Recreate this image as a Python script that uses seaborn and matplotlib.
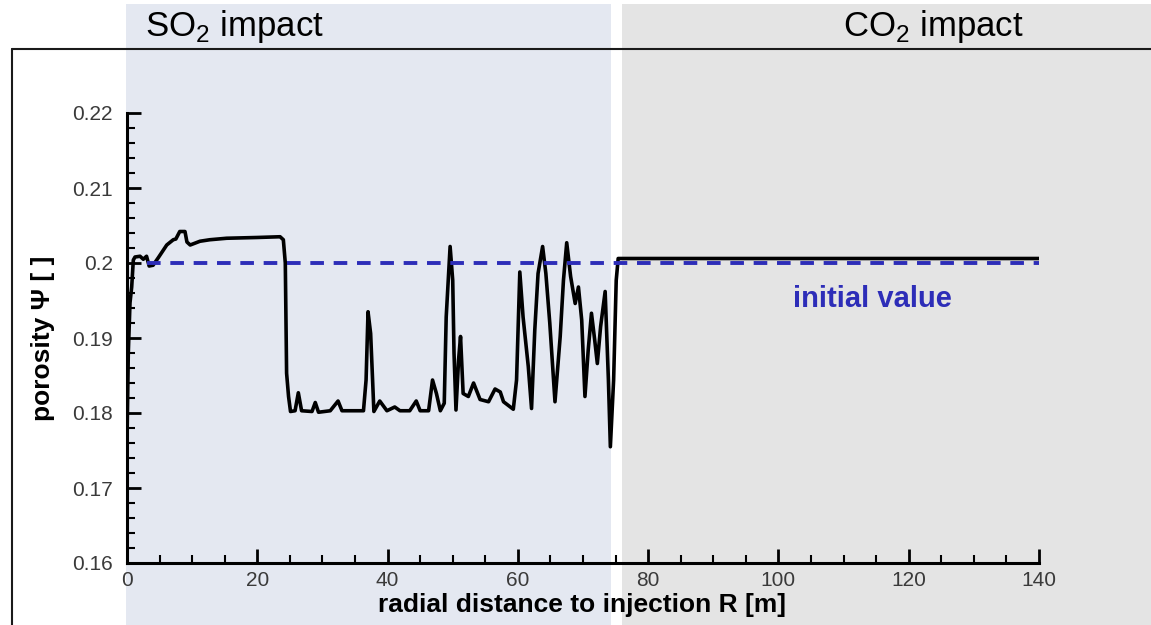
import matplotlib
matplotlib.use("Agg")
import matplotlib.pyplot as plt
import seaborn as sns
from matplotlib.patches import Rectangle
from matplotlib.lines import Line2D
from matplotlib.ticker import MultipleLocator

# porosity profile along the radius
radius = [0.0, 0.2, 0.46, 0.72, 0.97, 1.23, 2.0, 2.5, 3.0, 3.4, 4.0, 4.8, 6.1, 7.1, 7.5,
          8.1, 8.9, 9.2, 9.7, 11.2, 12.7, 15.3, 19.9, 23.5, 24.0, 24.3, 24.5, 24.8, 25.1,
          25.8, 26.3, 26.8, 28.4, 28.9, 29.4, 31.2, 32.4, 33.0, 36.3, 36.7, 37.0, 37.4,
          37.7, 37.9, 38.8, 39.9, 41.1, 41.9, 43.4, 44.4, 45.0, 46.3, 46.9, 47.5, 48.1,
          48.7, 49.0, 49.6, 50.0, 50.2, 50.5, 50.9, 51.2, 51.6, 52.4, 53.2, 54.2, 55.5,
          56.5, 57.3, 57.8, 59.3, 59.8, 60.3, 60.8, 61.6, 62.1, 62.6, 63.1, 63.8, 64.3,
          64.9, 65.7, 66.5, 67.0, 67.5, 68.1, 68.8, 69.3, 69.8, 70.3, 70.8, 71.3, 71.8,
          72.2, 72.7, 73.4, 73.9, 74.2, 74.7, 75.1, 75.4, 140.0]
porosity = [0.1764, 0.1880, 0.1947, 0.1968, 0.2004, 0.2008, 0.2009, 0.2005, 0.2009, 0.1996,
            0.1997, 0.2007, 0.2024, 0.2031, 0.2032, 0.2042, 0.2042, 0.2028, 0.2024, 0.2029,
            0.2031, 0.2033, 0.2034, 0.2035, 0.2031, 0.2000, 0.1853, 0.1822, 0.1802, 0.1803,
            0.1827, 0.1803, 0.1802, 0.1814, 0.1801, 0.1803, 0.1816, 0.1803, 0.1803, 0.1844,
            0.1935, 0.1906, 0.1844, 0.1802, 0.1816, 0.1803, 0.1808, 0.1803, 0.1803, 0.1816,
            0.1803, 0.1803, 0.1844, 0.1826, 0.1803, 0.1813, 0.1928, 0.2022, 0.1977, 0.1880,
            0.1804, 0.1871, 0.1902, 0.1826, 0.1822, 0.1840, 0.1818, 0.1815, 0.1832, 0.1828,
            0.1815, 0.1805, 0.1844, 0.1988, 0.1928, 0.1862, 0.1806, 0.1911, 0.1986, 0.2022,
            0.1986, 0.1920, 0.1815, 0.1902, 0.1977, 0.2027, 0.1982, 0.1946, 0.1968, 0.1924,
            0.1822, 0.1884, 0.1933, 0.1897, 0.1866, 0.1915, 0.1962, 0.1844, 0.1755, 0.1844,
            0.1977, 0.2006, 0.2006]

# initial porosity
initial_x = [3.0, 140.0]
initial_y = [0.2, 0.2]

xticks = [0, 20, 40, 60, 80, 100, 120, 140]
yticks = [0.16, 0.17, 0.18, 0.19, 0.2, 0.21, 0.22]
ytick_labels = ["0.16", "0.17", "0.18", "0.19", "0.2", "0.21", "0.22"]

sns.set_style("ticks")
plt.rcParams['font.family'] = ['Liberation Sans', 'DejaVu Sans']
plt.rcParams['mathtext.fontset'] = 'custom'
plt.rcParams['mathtext.rm'] = 'Liberation Sans'
plt.rcParams['text.color'] = 'black'
plt.rcParams['axes.labelcolor'] = 'black'

W, H = 1151, 625
fig = plt.figure(figsize=(W / 100, H / 100), dpi=100)
fig.patch.set_facecolor('white')

# zone shading behind the axes
fig.add_artist(Rectangle((126 / W, 0), (611 - 126) / W, 0.993, transform=fig.transFigure,
                         facecolor='#e4e8f1', edgecolor='none', zorder=-5))
fig.add_artist(Rectangle((622 / W, 0), 1 - 622 / W, 0.993, transform=fig.transFigure,
                         facecolor='#e4e4e4', edgecolor='none', zorder=-5))
fig.add_artist(Line2D([12 / W, 1], [0.9224, 0.9224], transform=fig.transFigure,
                      color='#1a1a1a', lw=1.5, zorder=-4))
fig.add_artist(Line2D([12 / W, 12 / W], [0, 0.9224], transform=fig.transFigure,
                      color='#1a1a1a', lw=1.5, zorder=-4))

fig.text(145 / W, 1 - 36 / H, 'SO$_\\mathregular{2}$ impact', fontsize=25, va='baseline')
fig.text(843 / W, 1 - 36 / H, 'CO$_\\mathregular{2}$ impact', fontsize=25, va='baseline')

ax = fig.add_axes([127 / W, 1 - 563 / H, (1039 - 127) / W, (563 - 113) / H])
ax.set_facecolor('none')

sns.lineplot(x=radius, y=porosity, ax=ax, color='black', lw=2.6, sort=False, estimator=None)
sns.lineplot(x=initial_x, y=initial_y, ax=ax, color='#2d2db8', lw=2.8,
             linestyle=(0, (3.5, 2.5)), sort=False, estimator=None)

ax.text(102.2, 0.1941, 'initial value', color='#2d2db8', fontsize=21,
        fontweight='bold', va='baseline')

ax.set_xlim(0, 140)
ax.set_ylim(0.16, 0.22)
ax.set_xticks(xticks)
ax.set_yticks(yticks)
ax.set_yticklabels(ytick_labels)
ax.xaxis.set_minor_locator(MultipleLocator(5))
ax.yaxis.set_minor_locator(MultipleLocator(0.002))

sns.despine(ax=ax)
for s in ['left', 'bottom']:
    ax.spines[s].set_linewidth(2.2)
    ax.spines[s].set_color('black')

ax.tick_params(which='both', direction='in', color='black')
ax.tick_params(which='major', length=10, width=2, labelsize=15, labelcolor='#3a3a3a')
ax.tick_params(which='minor', length=6, width=1.5)
ax.tick_params(axis='y', pad=10)
ax.tick_params(axis='x', pad=6)

ax.set_xlabel('radial distance to injection R [m]', fontsize=19, fontweight='bold')
ax.set_ylabel('porosity \u03a8 [ ]', fontsize=19, fontweight='bold')
ax.xaxis.label.set_va('center')
ax.xaxis.set_label_coords(0.499, -0.093)
ax.yaxis.set_label_coords(-0.079, 0.5)

fig.savefig('out.png', dpi=100)
